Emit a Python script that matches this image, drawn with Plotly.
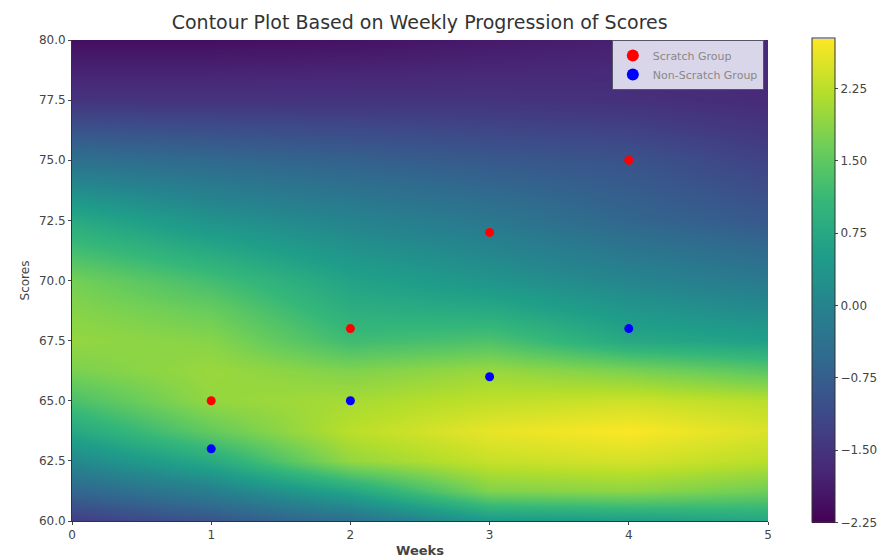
import plotly.graph_objects as go

# Grid on which the score-density surface is sampled
weeks_grid = [0, 1, 2, 3, 4, 5]
score_grid = [60, 61.25, 62.5, 63.75, 65, 66.25, 67.5, 68.75, 70, 72.5, 75, 77.5, 80]

# Surface values, one row per score level (rows follow score_grid)
z_values = [
    [-1.35, -0.95, -0.45, 0.40, 0.50, 0.70],
    [-0.60, -0.10, 0.70, 1.80, 1.90, 1.65],
    [0.10, 0.80, 1.95, 2.35, 2.45, 2.25],
    [0.75, 1.55, 2.25, 2.60, 2.75, 2.50],
    [1.30, 1.95, 2.10, 2.30, 2.40, 2.25],
    [1.75, 2.00, 1.80, 2.00, 1.77, 1.47],
    [1.95, 1.85, 1.20, 1.35, 0.76, 0.60],
    [1.85, 1.60, 0.90, 0.80, 0.40, 0.16],
    [1.70, 1.25, 0.65, 0.35, 0.05, -0.20],
    [0.80, 0.30, 0.00, -0.25, -0.60, -0.85],
    [-0.40, -0.55, -0.70, -0.85, -0.95, -1.25],
    [-1.50, -1.50, -1.50, -1.50, -1.55, -1.65],
    [-2.05, -2.05, -2.00, -1.90, -1.80, -1.65],
]

# Weekly scores of each group
weeks = [1, 2, 3, 4]
scratch_scores = [65, 68, 72, 75]
non_scratch_scores = [63, 65, 66, 68]

colorbar_ticks = [-2.25, -1.50, -0.75, 0.00, 0.75, 1.50, 2.25]
x_ticks = [0, 1, 2, 3, 4, 5]
y_ticks = [60.0, 62.5, 65.0, 67.5, 70.0, 72.5, 75.0, 77.5, 80.0]

FONT = "DejaVu Sans"

fig = go.Figure()

fig.add_trace(go.Heatmap(
    x=weeks_grid,
    y=score_grid,
    z=z_values,
    colorscale="Viridis",
    zmin=-2.25,
    zmax=2.77,
    zsmooth="best",
    showlegend=False,
    colorbar=dict(
        x=1.063, xanchor="left",
        y=0.5, yanchor="middle",
        len=1.006, lenmode="fraction",
        thickness=23,
        xpad=0, ypad=0,
        outlinewidth=1, outlinecolor="#333",
        tickvals=colorbar_ticks,
        ticktext=[f"{v:.2f}".replace("-", "\u2212") for v in colorbar_ticks],
        ticks="outside", ticklen=3,
        tickfont=dict(family=FONT, size=12, color="#444"),
    ),
))

fig.add_trace(go.Scatter(
    x=weeks, y=scratch_scores, mode="markers", name="Scratch Group",
    marker=dict(color="red", size=9),
))
fig.add_trace(go.Scatter(
    x=weeks, y=non_scratch_scores, mode="markers", name="Non-Scratch Group",
    marker=dict(color="blue", size=9),
))

fig.update_layout(
    width=893, height=560,
    margin=dict(l=72, r=125, t=40, b=39, autoexpand=False),
    paper_bgcolor="white",
    plot_bgcolor="white",
    font=dict(family=FONT, color="#444"),
    title=dict(
        text="Contour Plot Based on Weekly Progression of Scores",
        x=0.47, xanchor="center", y=0.96, yanchor="middle",
        font=dict(family=FONT, size=19, color="#333"),
    ),
    legend=dict(
        x=0.994, xanchor="right", y=1.0, yanchor="top",
        bgcolor="rgba(238,238,248,0.88)",
        bordercolor="#556", borderwidth=1,
        font=dict(family=FONT, size=11, color="#888"),
        itemsizing="constant",
    ),
    xaxis=dict(
        range=[0, 5], tickvals=x_ticks,
        ticktext=[str(v) for v in x_ticks],
        showgrid=False, zeroline=False, automargin=False,
        showline=True, linecolor="#333", linewidth=1,
        ticks="outside", ticklen=3,
        tickfont=dict(family=FONT, size=12, color="#444"),
        title=dict(text="<b>Weeks</b>", font=dict(family=FONT, size=13, color="#444"), standoff=4),
    ),
    yaxis=dict(
        range=[60, 80], tickvals=y_ticks,
        ticktext=[f"{v:.1f}" for v in y_ticks],
        showgrid=False, zeroline=False, automargin=False,
        showline=True, linecolor="#333", linewidth=1,
        ticks="outside", ticklen=3,
        tickfont=dict(family=FONT, size=12, color="#444"),
        title=dict(text="Scores", font=dict(family=FONT, size=12, color="#444"), standoff=6),
    ),
)

fig.write_html("out.html")
